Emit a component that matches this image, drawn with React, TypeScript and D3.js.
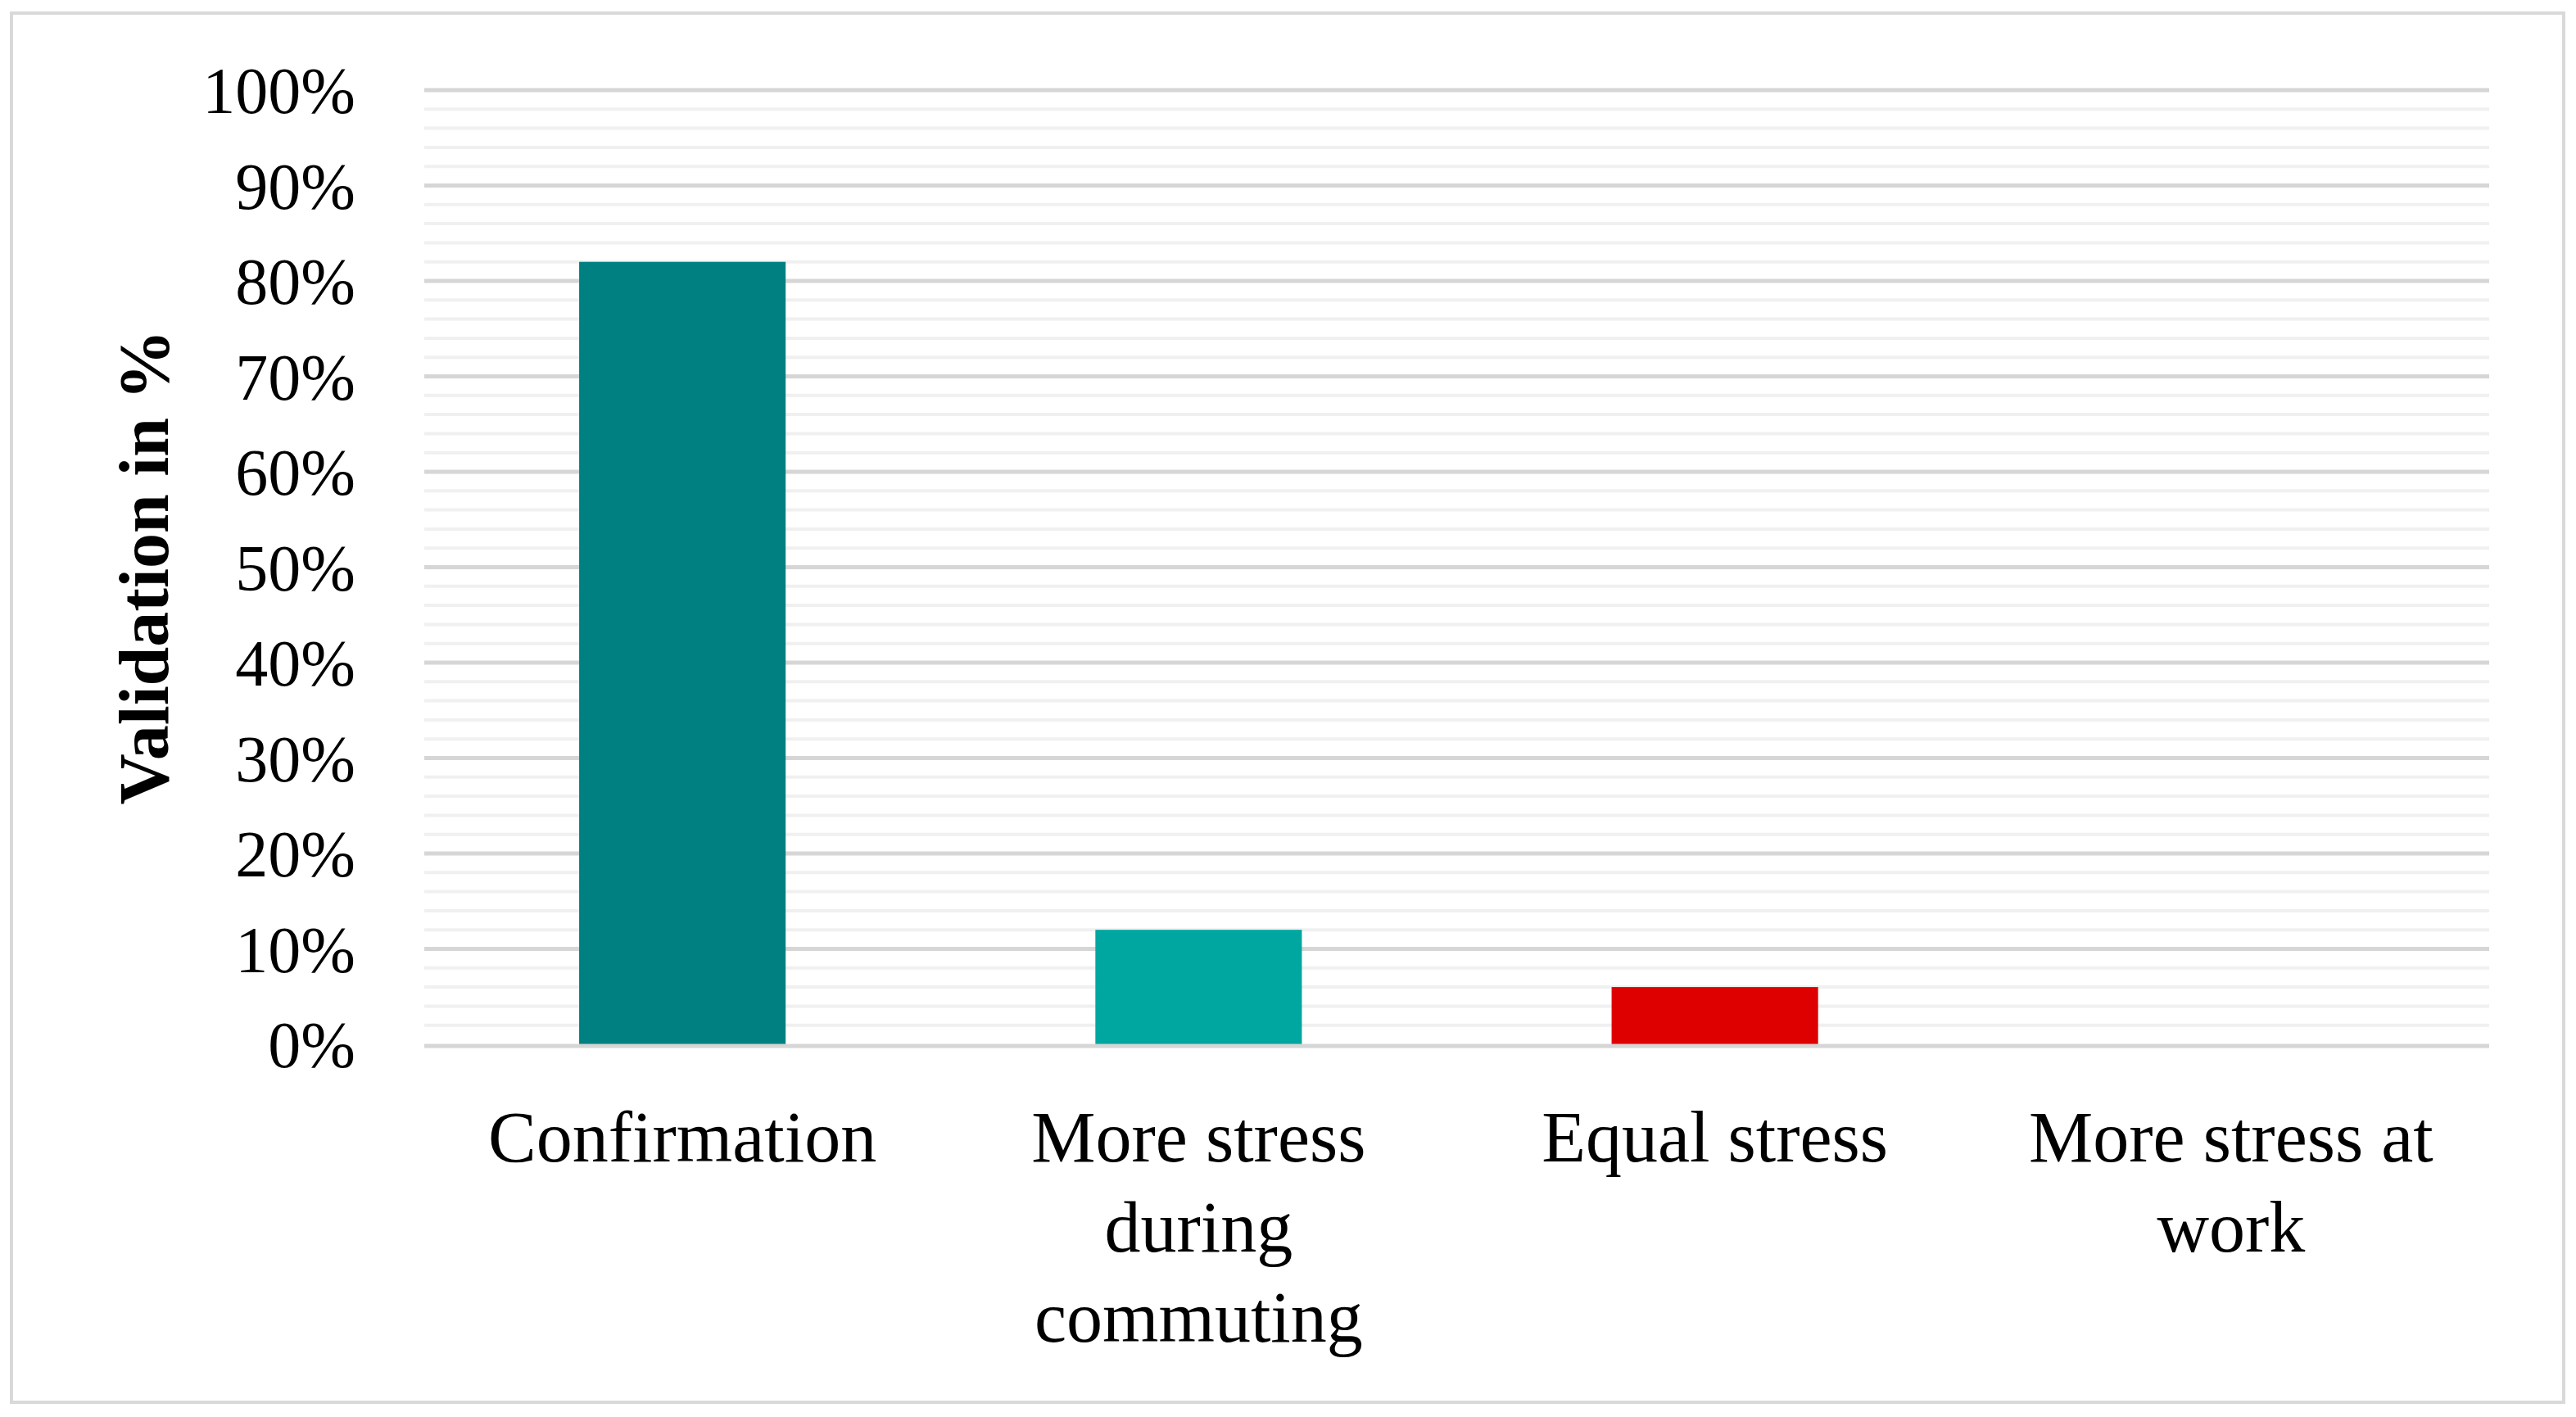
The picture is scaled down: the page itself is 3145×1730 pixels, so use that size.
import * as d3 from "d3";

const categories = [
  "Confirmation",
  "More stress\nduring\ncommuting",
  "Equal stress",
  "More stress at\nwork",
];
const values = [82, 12, 6, 0];
const barColors = ["#008080", "#00A6A0", "#DE0000", "#DE0000"];
const majorTicks = [0, 10, 20, 30, 40, 50, 60, 70, 80, 90, 100];
const minorTicks = d3.range(0, 101, 2);

const WIDTH = 3129;
const HEIGHT = 1714;
const PLOT = { left: 510, right: 3031, top: 102, bottom: 1267 };
const FONT = "'Palatino Linotype', 'Book Antiqua', Palatino, 'Liberation Serif', serif";

const App = () => {
  const x = d3
    .scaleBand<string>()
    .domain(categories)
    .range([PLOT.left, PLOT.right])
    .paddingInner(0.6)
    .paddingOuter(0.3);

  const y = d3.scaleLinear().domain([0, 100]).range([PLOT.bottom, PLOT.top]);

  return (
    <svg width={WIDTH} height={HEIGHT} style={{ display: "block" }}>
      <rect x={0} y={0} width={WIDTH} height={HEIGHT} fill="#ffffff" />
      <rect x={6} y={8} width={3116} height={1696} fill="none" stroke="#d9d9d9" strokeWidth={4} />

      {/* minor gridlines */}
      {minorTicks
        .filter((t) => t % 10 !== 0)
        .map((t) => (
          <line key={"m" + t} x1={PLOT.left} x2={PLOT.right} y1={y(t)} y2={y(t)} stroke="#f0f0f0" strokeWidth={4} />
        ))}
      {/* major gridlines */}
      {majorTicks
        .filter((t) => t !== 0)
        .map((t) => (
          <line key={"M" + t} x1={PLOT.left} x2={PLOT.right} y1={y(t)} y2={y(t)} stroke="#d6d6d6" strokeWidth={5} />
        ))}

      {categories.map((c, i) => (
        <rect
          key={c}
          x={x(c)}
          y={y(values[i])}
          width={x.bandwidth()}
          height={y(0) - y(values[i])}
          fill={barColors[i]}
        />
      ))}

      <line x1={PLOT.left} x2={PLOT.right} y1={y(0) + 2} y2={y(0) + 2} stroke="#d6d6d6" strokeWidth={5} />

      {majorTicks.map((t) => (
        <text
          key={"t" + t}
          x={426}
          y={y(t)}
          dy="0.35em"
          textAnchor="end"
          fontFamily={FONT}
          fontSize={80}
          fill="#000"
        >
          {t}%
        </text>
      ))}

      {categories.map((c) => (
        <text
          key={"l" + c}
          x={(x(c) ?? 0) + x.bandwidth() / 2}
          y={1410}
          textAnchor="middle"
          fontFamily={FONT}
          fontSize={88}
          fill="#000"
        >
          {c.split("\n").map((line, j) => (
            <tspan key={j} x={(x(c) ?? 0) + x.bandwidth() / 2} dy={j === 0 ? 0 : 110}>
              {line}
            </tspan>
          ))}
        </text>
      ))}

      <text
        transform={`translate(167, ${(PLOT.top + PLOT.bottom) / 2}) rotate(-90)`}
        dy="0.35em"
        textAnchor="middle"
        fontFamily={FONT}
        fontWeight="bold"
        fontSize={86}
        fill="#000"
      >
        Validation in %
      </text>
    </svg>
  );
};

export default App;
